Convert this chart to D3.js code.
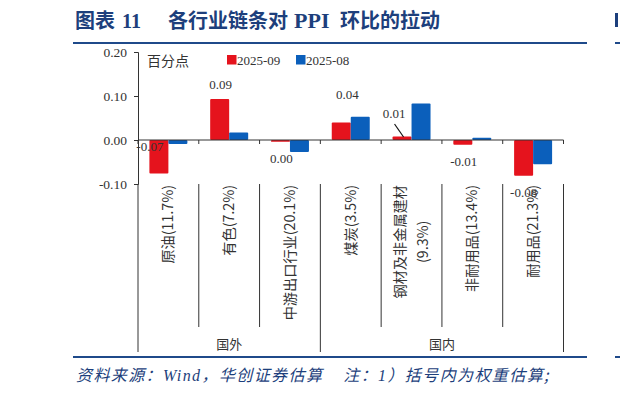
<!DOCTYPE html>
<html>
<head>
<meta charset="utf-8">
<script src="https://cdn.jsdelivr.net/npm/d3@7/dist/d3.min.js"></script>
<style>
  html, body { margin: 0; padding: 0; background: #fff; }
  svg { display: block; }
  text { white-space: pre; }
</style>
</head>
<body>
<div id="chart"></div>
<script>
// chart values
var categories = ['原油(11.7%)', '有色(7.2%)', '中游出口行业(20.1%)', '煤炭(3.5%)',
                  '钢材及非金属建材\n(9.3%)', '非耐用品(13.4%)', '耐用品(21.3%)'];
var groupNames = ['国外', '国内'];
var groupSizes = [3, 4];
var seriesNames = ['2025-09', '2025-08'];
var values09 = [-0.076, 0.093, -0.004, 0.040, 0.008, -0.011, -0.081];
var values08 = [-0.009, 0.017, -0.027, 0.053, 0.083, 0.005, -0.055];
var labels09 = ['-0.07', '0.09', '0.00', '0.04', '0.01', '-0.01', '-0.08'];
var yTicks = [0.20, 0.10, 0.00, -0.10];

// hand placed data labels (offset from the red bar end), as in the source
var labelNudge = [[-9, -27], [1, -15], [1, 17], [6, -28], [-8, -23], [1, 17], [0, 17]];

var colors = { '2025-09': '#e5131d', '2025-08': '#0b5fbb' };
var navy = '#1d3f7c';
var ink = '#333';
var serif = '"Liberation Serif", "Times New Roman", serif';
var cjk = '"Noto Sans CJK SC", "Noto Sans", sans-serif';

var W = 620, H = 394;
var plot = { left: 138, right: 563.5, top: 52, bottom: 184 };
var labelBottom = 327, groupBottom = 352;

var svg = d3.select('#chart').append('svg')
    .attr('width', W)
    .attr('height', H);

// title and rules
var title = svg.append('text')
    .attr('x', 75)
    .attr('y', 28)
    .attr('fill', navy)
    .attr('font-weight', 'bold')
    .attr('font-size', 20)
    .attr('font-family', cjk);
title.append('tspan').text('图表');
title.append('tspan').attr('x', 122).attr('font-family', serif).text('11');
title.append('tspan').attr('x', 168).text('各行业链条对');
title.append('tspan').attr('x', 294).attr('font-family', serif).attr('font-size', 22).text('PPI');
title.append('tspan').attr('x', 340).text('环比的拉动');

// edge of the neighbouring panel
svg.append('rect')
    .attr('x', 615).attr('y', 13)
    .attr('width', 3).attr('height', 14)
    .attr('fill', navy);

[43, 357].forEach(function(yy) {
    svg.append('line')
        .attr('x1', 73).attr('x2', 587)
        .attr('y1', yy).attr('y2', yy)
        .attr('stroke', '#1f4a8a').attr('stroke-width', 2);
    svg.append('line')
        .attr('x1', 615).attr('x2', 620)
        .attr('y1', yy).attr('y2', yy)
        .attr('stroke', '#1f4a8a').attr('stroke-width', 2);
});

var foot = svg.append('text')
    .attr('x', 76)
    .attr('y', 381)
    .attr('fill', navy)
    .attr('font-size', 16)
    .attr('letter-spacing', 1.4)
    .attr('font-style', 'italic')
    .attr('font-family', cjk);
foot.append('tspan').text('资料来源：');
foot.append('tspan').attr('font-family', serif).text('Wind');
foot.append('tspan').text('，华创证券估算    注：');
foot.append('tspan').attr('font-family', serif).text('1');
foot.append('tspan').text('）括号内为权重估算;');

// scales
var x = d3.scaleBand()
    .domain(categories)
    .range([plot.left, plot.right])
    .paddingInner(0)
    .paddingOuter(0);

var xs = d3.scaleBand()
    .domain(seriesNames)
    .range([0, x.bandwidth()])
    .paddingInner(0)
    .paddingOuter(0.6);

var y = d3.scaleLinear()
    .domain([-0.1, 0.2])
    .range([plot.bottom, plot.top]);

// bars
var rows = categories.map(function(c, i) {
    return { cat: c, i: i, vals: [
        { s: '2025-09', v: values09[i] },
        { s: '2025-08', v: values08[i] }
    ] };
});

var g = svg.append('g').selectAll('g')
    .data(rows)
    .enter().append('g')
    .attr('transform', function(d) { return 'translate(' + x(d.cat) + ',0)'; });

g.selectAll('rect')
    .data(function(d) { return d.vals; })
    .enter().append('rect')
    .attr('x', function(d) { return xs(d.s); })
    .attr('width', xs.bandwidth())
    .attr('y', function(d) { return y(Math.max(0, d.v)); })
    .attr('height', function(d) { return Math.abs(y(d.v) - y(0)); })
    .attr('rx', 1)
    .attr('fill', function(d) { return colors[d.s]; });

// y axis
var yAxis = svg.append('g')
    .attr('transform', 'translate(' + plot.left + ',0)')
    .call(d3.axisLeft(y).tickValues(yTicks).tickSize(4).tickPadding(7)
        .tickFormat(function(d) { return d.toFixed(2); }));
yAxis.select('.domain').attr('stroke', ink);
yAxis.selectAll('.tick line').attr('stroke', ink);
yAxis.selectAll('text')
    .attr('font-family', serif)
    .attr('font-size', 13.5)
    .attr('fill', ink);

// zero line with category ticks
var bounds = categories.map(function(c) { return x(c); }).concat([plot.right]);
svg.append('line')
    .attr('x1', plot.left).attr('x2', plot.right)
    .attr('y1', y(0)).attr('y2', y(0))
    .attr('stroke', ink);
svg.append('g').selectAll('line')
    .data(bounds)
    .enter().append('line')
    .attr('x1', function(d) { return d; })
    .attr('x2', function(d) { return d; })
    .attr('y1', y(0)).attr('y2', y(0) + 4)
    .attr('stroke', ink);

// category and group separators below the plot
var groupEdges = [0];
groupSizes.forEach(function(n, i) { groupEdges.push(groupEdges[i] + n); });
svg.append('g').selectAll('line')
    .data(bounds)
    .enter().append('line')
    .attr('x1', function(d) { return d; })
    .attr('x2', function(d) { return d; })
    .attr('y1', plot.bottom)
    .attr('y2', function(d, i) { return groupEdges.indexOf(i) >= 0 ? groupBottom : labelBottom; })
    .attr('stroke', ink);

// category labels, rotated
var catLab = svg.append('g').selectAll('g')
    .data(categories)
    .enter().append('g')
    .attr('transform', function(d) {
        return 'translate(' + (x(d) + x.bandwidth() / 2) + ',' + (plot.bottom + 1) + ') rotate(-90)';
    });
catLab.each(function(d) {
    var lines = d.split('\n');
    var sel = d3.select(this);
    var gap = 23;
    var first = sel.append('text')
        .attr('x', 0)
        .attr('y', -(lines.length - 1) * gap / 2)
        .attr('dy', '0.35em')
        .attr('text-anchor', 'end')
        .attr('font-family', cjk)
        .attr('font-size', 14.2)
        .attr('fill', ink)
        .text(lines[0]);
    var len = first.node().getComputedTextLength();
    lines.slice(1).forEach(function(l, k) {
        sel.append('text')
            .attr('x', -len / 2)
            .attr('y', -(lines.length - 1) * gap / 2 + (k + 1) * gap)
            .attr('dy', '0.35em')
            .attr('text-anchor', 'middle')
            .attr('font-family', cjk)
            .attr('font-size', 14.2)
            .attr('fill', ink)
            .text(l);
    });
});

// group labels
svg.append('g').selectAll('text')
    .data(groupNames)
    .enter().append('text')
    .attr('x', function(d, i) {
        return (bounds[groupEdges[i]] + bounds[groupEdges[i + 1]]) / 2;
    })
    .attr('y', 344)
    .attr('dy', '0.35em')
    .attr('text-anchor', 'middle')
    .attr('font-family', cjk)
    .attr('font-size', 13)
    .attr('fill', ink)
    .text(function(d) { return d; });

// data labels for 2025-09
var redMid = function(i) { return x(categories[i]) + xs('2025-09') + xs.bandwidth() / 2; };
svg.append('g').selectAll('text')
    .data(labels09)
    .enter().append('text')
    .attr('x', function(d, i) { return redMid(i) + labelNudge[i][0]; })
    .attr('y', function(d, i) { return y(values09[i]) + labelNudge[i][1]; })
    .attr('dy', '0.35em')
    .attr('text-anchor', 'middle')
    .attr('font-family', serif)
    .attr('font-size', 13)
    .attr('fill', ink)
    .text(function(d) { return d; });

// leader line for the small steel label
svg.append('line')
    .attr('x1', redMid(4) - 7.5).attr('y1', y(values09[4]) - 12.5)
    .attr('x2', redMid(4) + 1.5).attr('y2', y(values09[4]) + 0.5)
    .attr('stroke', '#111').attr('stroke-width', 1.2);

// unit + legend
svg.append('text')
    .attr('x', 147).attr('y', 61)
    .attr('dy', '0.35em')
    .attr('font-family', cjk)
    .attr('font-size', 14)
    .attr('fill', ink)
    .text('百分点');

var leg = svg.append('g').selectAll('g')
    .data(seriesNames)
    .enter().append('g')
    .attr('transform', function(d, i) { return 'translate(' + (227 + i * 69) + ',55)'; });
leg.append('rect')
    .attr('width', 9.5).attr('height', 9.5)
    .attr('fill', function(d) { return colors[d]; });
leg.append('text')
    .attr('x', 10).attr('y', 5)
    .attr('dy', '0.35em')
    .attr('font-family', serif)
    .attr('font-size', 13)
    .attr('fill', ink)
    .text(function(d) { return d; });
</script>
</body>
</html>
